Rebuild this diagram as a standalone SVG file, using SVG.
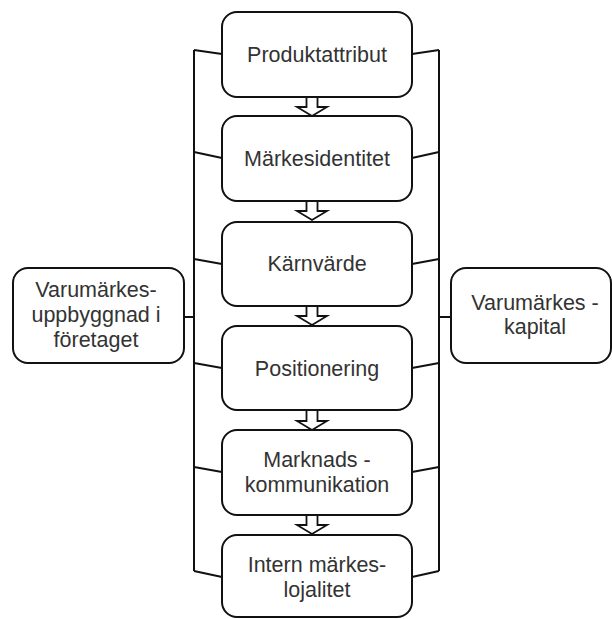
<svg xmlns="http://www.w3.org/2000/svg" width="612" height="619" viewBox="0 0 612 619">
<style>
.box{fill:#fff;stroke:#111;stroke-width:2}
.ln{fill:none;stroke:#111;stroke-width:2}
.arr{fill:#fff;stroke:#111;stroke-width:1.8;stroke-linejoin:miter}
text{font-family:"Liberation Sans",Arial,sans-serif;font-size:21.5px;fill:#333;text-anchor:middle}
</style>
<defs>
<path id="ar" class="arr" d="M-5.5,0 V10 H-15 L0,19 L15,10 H5.5 V0"/>
</defs>
<rect width="612" height="619" fill="#fff"/>
<g id="connectors">
<path class="ln" d="M194,50 V571"/>
<path class="ln" d="M439,50 V571"/>
<path class="ln" d="M194,50 L222,54 M194,152 L222,158 M194,259 L222,264 M194,363 L222,368 M194,467 L222,472 M194,571 L222,577"/>
<path class="ln" d="M439,50 L412,54 M439,152 L412,158 M439,259 L412,264 M439,363 L412,368 M439,467 L412,472 M439,571 L412,577"/>
<path class="ln" d="M184,317 H194 M439,317 H451"/>
<use href="#ar" x="312" y="97"/>
<use href="#ar" x="312" y="201"/>
<use href="#ar" x="312" y="306"/>
<use href="#ar" x="312" y="411"/>
<use href="#ar" x="312" y="515"/>
</g>
<g id="n1"><rect class="box" x="222" y="12" width="190" height="85" rx="15"/><text x="317" y="62">Produktattribut</text></g>
<g id="n2"><rect class="box" x="222" y="116" width="190" height="85" rx="15"/><text x="317" y="166">Märkesidentitet</text></g>
<g id="n3"><rect class="box" x="222" y="222" width="190" height="84" rx="15"/><text x="317" y="271">Kärnvärde</text></g>
<g id="n4"><rect class="box" x="222" y="326" width="190" height="84" rx="15"/><text x="317" y="376">Positionering</text></g>
<g id="n5"><rect class="box" x="222" y="430" width="190" height="85" rx="15"/><text x="317" y="467">Marknads -</text><text x="317" y="492">kommunikation</text></g>
<g id="n6"><rect class="box" x="222" y="535" width="190" height="82" rx="15"/><text x="317" y="572">Intern märkes-</text><text x="317" y="597">lojalitet</text></g>
<g id="left"><rect class="box" x="13" y="268" width="171" height="95" rx="15"/><text x="96" y="297">Varumärkes-</text><text x="96" y="322">uppbyggnad i</text><text x="96" y="347">företaget</text></g>
<g id="right"><rect class="box" x="451" y="268" width="160" height="95" rx="15"/><text x="535" y="310">Varumärkes -</text><text x="535" y="334">kapital</text></g>
</svg>
